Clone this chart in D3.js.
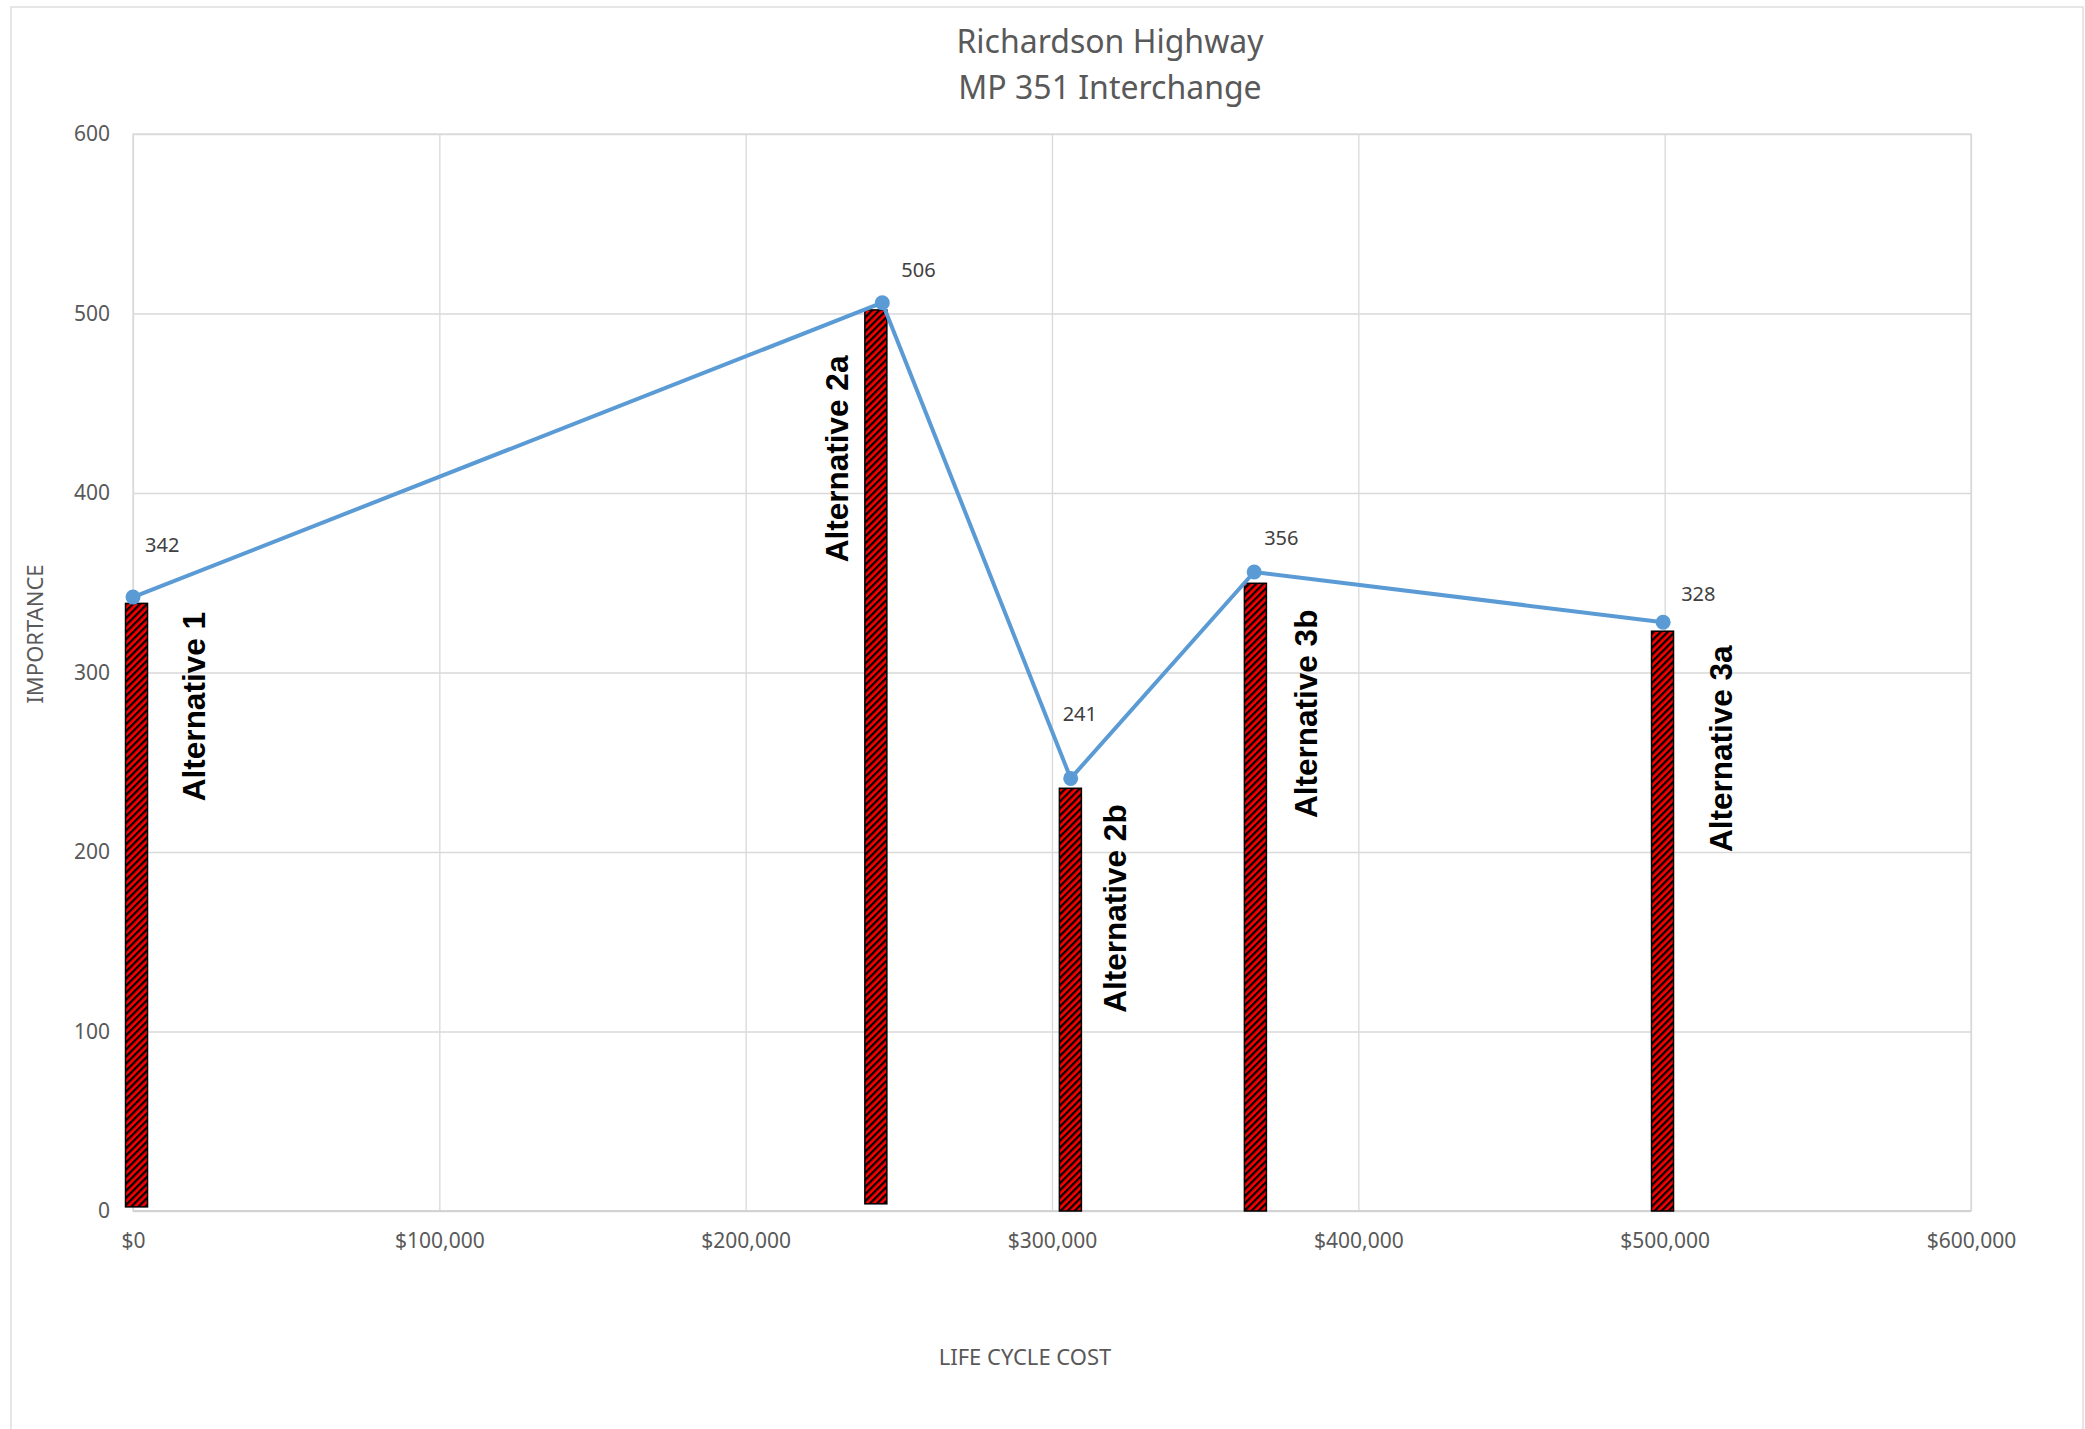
<!DOCTYPE html>
<html>
<head>
<meta charset="utf-8">
<script src="https://cdn.jsdelivr.net/npm/d3@7"></script>
<style>
  html, body { margin: 0; padding: 0; background: #ffffff; }
  svg { display: block; }
</style>
</head>
<body>
<svg id="chart" width="2085" height="1429"></svg>
<script>
// ---------------- data ----------------
const titleLines = ["Richardson Highway", "MP 351 Interchange"];
const xAxisTitle = "LIFE CYCLE COST";
const yAxisTitle = "IMPORTANCE";

// line series (life cycle cost vs importance)
const pointCost = [0, 244600, 306100, 366000, 499500];
const pointImportance = [342, 506, 241, 356, 328];

// hatched bar series
const barNames = ["Alternative 1", "Alternative 2a", "Alternative 2b", "Alternative 3b", "Alternative 3a"];
const barCost = [1150, 242500, 306000, 366400, 499300];
const barTop = [338.5, 502, 235.5, 349.7, 323];
const barBase = [2.3, 4, 0, 0, 0];

// annotation anchors (data units) for the rotated bar names
const nameCost = [23500, 233400, 324200, 386500, 522000];
const nameImportance = [281, 419, 168.5, 277, 257.5];

// tick values
const xTicks = [0, 100000, 200000, 300000, 400000, 500000, 600000];
const yTicks = [0, 100, 200, 300, 400, 500, 600];

// data-label nudges (px) relative to each point
const labelNudge = [[12, -45], [19, -26], [-8, -57], [10, -27], [18, -21]];

// ---------------- layout ----------------
const W = 2085, H = 1429;
const plot = { left: 133, right: 1971, top: 134, bottom: 1211 };
const svg = d3.select("#chart");
const FONT = "'Noto Sans', 'Open Sans', sans-serif";

const x = d3.scaleLinear().domain([0, 600000]).range([plot.left, plot.right]);
const y = d3.scaleLinear().domain([0, 600]).range([plot.bottom, plot.top]);

// outer chart border
svg.append("rect")
  .attr("x", 11).attr("y", 7)
  .attr("width", 2072).attr("height", H + 20)
  .attr("fill", "#ffffff")
  .attr("stroke", "#d9d9d9").attr("stroke-width", 1.3);

// pattern: red with dark upward diagonal stripes
const defs = svg.append("defs");
const pat = defs.append("pattern")
  .attr("id", "hatch")
  .attr("patternUnits", "userSpaceOnUse")
  .attr("width", 5).attr("height", 5)
  .attr("patternTransform", "rotate(45)");
pat.append("rect").attr("width", 5).attr("height", 5).attr("fill", "#ff0000");
pat.append("rect").attr("x", 0).attr("width", 2.3).attr("height", 5).attr("fill", "#000000");

// title
svg.append("g").selectAll("text")
  .data(titleLines)
  .join("text")
  .attr("x", 1110)
  .attr("y", (d, i) => 53 + i * 46)
  .attr("text-anchor", "middle")
  .attr("font-family", FONT)
  .attr("font-size", 32)
  .attr("fill", "#595959")
  .text(d => d);

// gridlines + axes
const yAxis = d3.axisLeft(y).tickValues(yTicks)
  .tickSize(-(plot.right - plot.left)).tickPadding(23).tickFormat(d3.format("d"));
const gy = svg.append("g").attr("transform", `translate(${plot.left},0)`).call(yAxis);
gy.select(".domain").remove();
gy.selectAll(".tick line").attr("stroke", "#d9d9d9").attr("stroke-width", 1.3);
gy.selectAll(".tick text").attr("font-family", FONT).attr("font-size", 21).attr("fill", "#595959");

const xAxis = d3.axisBottom(x).tickValues(xTicks)
  .tickSize(-(plot.bottom - plot.top)).tickPadding(22).tickFormat(d3.format("$,"));
const gx = svg.append("g").attr("transform", `translate(0,${plot.bottom})`).call(xAxis);
gx.select(".domain").remove();
gx.selectAll(".tick line").attr("stroke", "#d9d9d9").attr("stroke-width", 1.3);
gx.selectAll(".tick text").attr("font-family", FONT).attr("font-size", 21).attr("fill", "#595959");

// plot border
svg.append("rect")
  .attr("x", plot.left).attr("y", plot.top)
  .attr("width", plot.right - plot.left).attr("height", plot.bottom - plot.top)
  .attr("fill", "none").attr("stroke", "#d9d9d9").attr("stroke-width", 1.3);
// bottom axis line
svg.append("line")
  .attr("x1", plot.left).attr("x2", plot.right)
  .attr("y1", plot.bottom).attr("y2", plot.bottom)
  .attr("stroke", "#cfcfcf").attr("stroke-width", 1.6);

// axis titles
svg.append("text")
  .attr("x", x(xTicks[0] + 0) + 892).attr("y", 1365)
  .attr("text-anchor", "middle")
  .attr("font-family", FONT).attr("font-size", 22).attr("fill", "#595959")
  .text(xAxisTitle);
svg.append("text")
  .attr("transform", "translate(43,634) rotate(-90)")
  .attr("text-anchor", "middle")
  .attr("font-family", FONT).attr("font-size", 22).attr("fill", "#595959")
  .text(yAxisTitle);

// bars
const barW = 22;
const bars = barNames.map((n, i) => ({ name: n, cost: barCost[i], top: barTop[i], base: barBase[i] }));
svg.append("g").selectAll("rect")
  .data(bars)
  .join("rect")
  .attr("x", d => x(d.cost) - barW / 2)
  .attr("y", d => y(d.top))
  .attr("width", barW)
  .attr("height", d => y(d.base) - y(d.top))
  .attr("fill", "url(#hatch)")
  .attr("stroke", "#000000").attr("stroke-width", 1.5);

// line series
const pts = pointCost.map((c, i) => ({ cost: c, v: pointImportance[i], nudge: labelNudge[i] }));
svg.append("path")
  .datum(pts)
  .attr("fill", "none")
  .attr("stroke", "#5b9bd5")
  .attr("stroke-width", 4)
  .attr("stroke-linejoin", "round")
  .attr("stroke-linecap", "round")
  .attr("d", d3.line().x(d => x(d.cost)).y(d => y(d.v)));

svg.append("g").selectAll("circle")
  .data(pts)
  .join("circle")
  .attr("cx", d => x(d.cost))
  .attr("cy", d => y(d.v))
  .attr("r", 7.5)
  .attr("fill", "#5b9bd5");

// data labels
svg.append("g").selectAll("text")
  .data(pts)
  .join("text")
  .attr("x", d => x(d.cost) + d.nudge[0])
  .attr("y", d => y(d.v) + d.nudge[1])
  .attr("font-family", FONT).attr("font-size", 20).attr("fill", "#404040")
  .text(d => d.v);

// bar name annotations (rotated)
svg.append("g").selectAll("text")
  .data(barNames.map((n, i) => ({ name: n, cost: nameCost[i], v: nameImportance[i] })))
  .join("text")
  .attr("transform", d => `translate(${x(d.cost)},${y(d.v)}) rotate(-90)`)
  .attr("text-anchor", "middle")
  .attr("font-family", "'Liberation Sans', Arial, sans-serif")
  .attr("font-weight", "bold")
  .attr("font-size", 31.5)
  .attr("fill", "#000000")
  .text(d => d.name);
</script>
</body>
</html>
